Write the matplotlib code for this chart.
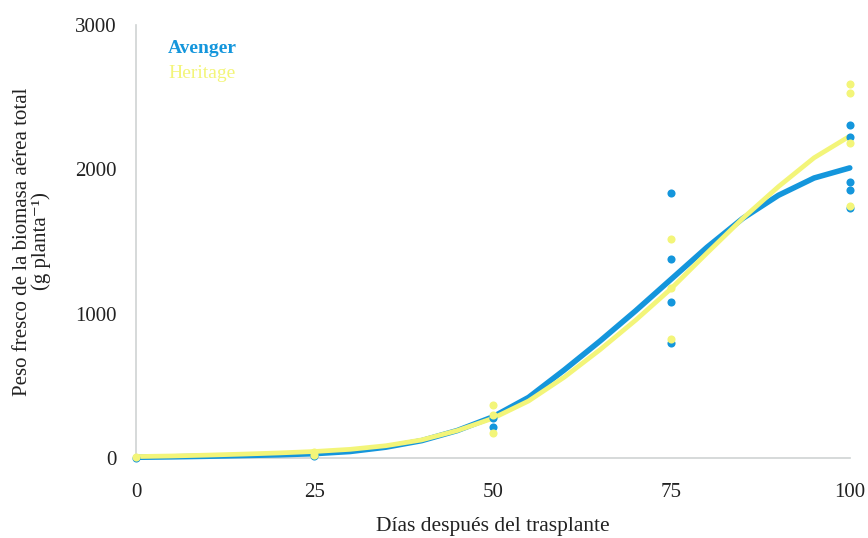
import matplotlib
matplotlib.use("Agg")
import matplotlib.pyplot as plt

# Fitted curves
curve_days = [0, 5, 10, 15, 20, 25, 30, 35, 40, 45, 50, 55, 60, 65, 70, 75, 80, 85, 90, 95, 100]
avenger_curve = [5, 8, 12, 17, 22, 30, 45, 75, 120, 190, 285, 420, 610, 810, 1020, 1240, 1460, 1660, 1820, 1940, 2010]
heritage_curve = [10, 14, 20, 27, 35, 45, 60, 85, 125, 190, 275, 395, 560, 750, 955, 1175, 1420, 1660, 1880, 2080, 2230]

# Observed points
avenger_days = [0, 25, 50, 50, 75, 75, 75, 75, 100, 100, 100, 100, 100]
avenger_vals = [0, 15, 215, 280, 1836, 1379, 1081, 800, 2308, 2225, 1913, 1857, 1730]
heritage_days = [0, 25, 25, 50, 50, 50, 75, 75, 75, 100, 100, 100, 100]
heritage_vals = [10, 20, 40, 170, 300, 365, 1518, 1178, 825, 2590, 2530, 2183, 1746]

x_ticks = [0, 25, 50, 75, 100]
y_ticks = [0, 1000, 2000, 3000]

BLUE = "#1496dc"
YELLOW = "#f3f579"

plt.rcParams['font.family'] = ['Liberation Serif', 'DejaVu Serif']

fig = plt.figure(figsize=(8.68, 5.38), dpi=100)
ax = fig.add_axes([0.1567, 0.1487, 0.8223, 0.8048])

ax.plot(curve_days, avenger_curve, color=BLUE, lw=4, solid_capstyle='round',
        solid_joinstyle='round', zorder=3, clip_on=False)
ax.plot(curve_days, heritage_curve, color=YELLOW, lw=3.4, solid_capstyle='round',
        solid_joinstyle='round', zorder=4, clip_on=False)
ax.scatter(avenger_days, avenger_vals, s=34, color=BLUE, zorder=5, clip_on=False, linewidths=0)
ax.scatter(heritage_days, heritage_vals, s=34, color=YELLOW, zorder=6, clip_on=False, linewidths=0)

ax.set_xlim(0, 100)
ax.set_ylim(0, 3000)
ax.set_xticks(x_ticks)
ax.set_yticks(y_ticks)
ax.tick_params(length=0, labelsize=15, pad=18, colors='#222222')
ax.tick_params(axis='y', pad=14)
for s in ['top', 'right']:
    ax.spines[s].set_visible(False)
for s in ['left', 'bottom']:
    ax.spines[s].set_color('#cfd3d3')
    ax.spines[s].set_linewidth(1.2)

ax.set_xlabel("Días después del trasplante", fontsize=15.5, labelpad=11, color='#222222')
ax.set_ylabel("Peso fresco de la biomasa aérea total\n(g planta⁻¹)", fontsize=15,
              labelpad=17, color='#222222', linespacing=1.0)

ax.text(0.045, 0.945, "Avenger", transform=ax.transAxes, color=BLUE, fontsize=14,
        fontweight='bold', ha='left', va='center')
ax.text(0.045, 0.887, "Heritage", transform=ax.transAxes, color=YELLOW, fontsize=14,
        ha='left', va='center')

fig.savefig("out.png", dpi=100)
